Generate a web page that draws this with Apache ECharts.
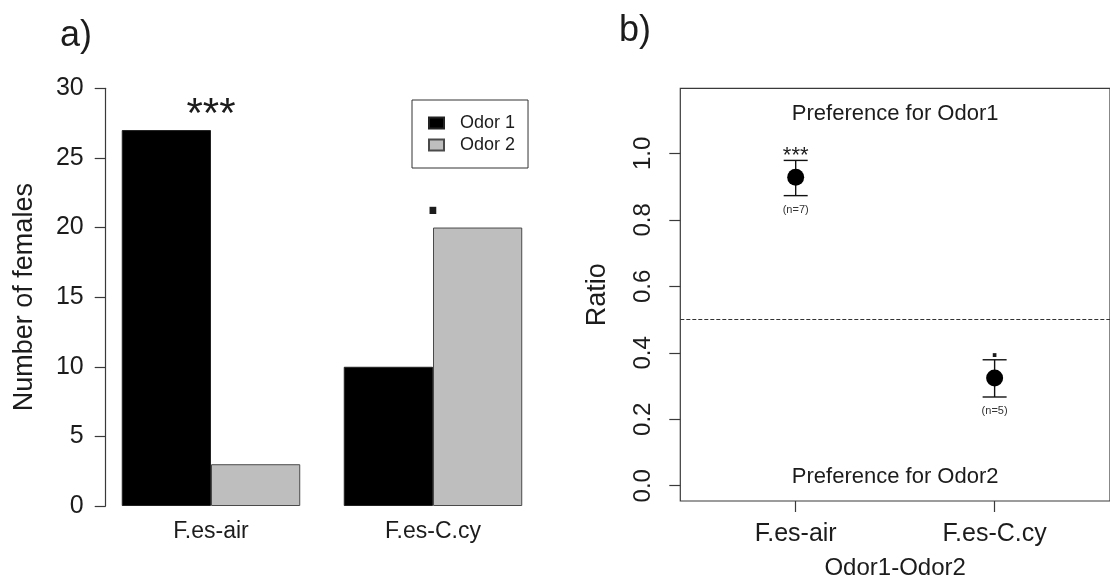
<!DOCTYPE html>
<html>
<head>
<meta charset="utf-8">
<script src="https://cdn.jsdelivr.net/npm/echarts@6/dist/echarts.min.js"></script>
<style>
  html, body { margin: 0; padding: 0; background: #ffffff; }
  #chart { width: 1110px; height: 585px; }
</style>
</head>
<body>
<div id="chart"></div>
<script>
// Panel a: number of females choosing each odour
const categories = ['F.es-air', 'F.es-C.cy'];
const odor1Counts = [27, 10];
const odor2Counts = [3, 20];
const countSig = ['***', '.'];
const countTicks = [0, 5, 10, 15, 20, 25, 30];

// Panel b: mean choice ratio (Odor1 share) with error bars
const ratioMean = [0.928, 0.324];
const ratioLow = [0.873, 0.267];
const ratioHigh = [0.979, 0.379];
const ratioSig = ['***', '.'];
const ratioN = ['(n=7)', '(n=5)'];
const ratioTicks = [0.0, 0.2, 0.4, 0.6, 0.8, 1.0];
const neutralRatio = 0.5;

const FONT = "'Liberation Sans', Arial, Helvetica, sans-serif";
const INK = '#1c1c1c';
const AXIS = '#3a3a3a';

const chart = echarts.init(document.getElementById('chart'), null, { renderer: 'canvas' });

function sigStyle(sig, big) {
  if (sig === '.') {
    return { fontSize: big ? 48 : 26, fontWeight: 'bold' };
  }
  return { fontSize: big ? 42 : 22, fontWeight: 'normal' };
}

const option = {
  animation: false,
  backgroundColor: '#ffffff',
  textStyle: { fontFamily: FONT, color: INK },
  title: [
    { text: 'a)', left: 55, top: 13, textStyle: { fontSize: 36, fontWeight: 'normal', color: INK, fontFamily: FONT } },
    { text: 'b)', left: 614, top: 8, textStyle: { fontSize: 36, fontWeight: 'normal', color: INK, fontFamily: FONT } }
  ],
  legend: {
    data: ['Odor 1', 'Odor 2'],
    orient: 'vertical',
    left: 412,
    top: 100,
    padding: [14, 13, 14, 16],
    itemGap: 4,
    itemWidth: 15,
    itemHeight: 11,
    icon: 'rect',
    borderColor: '#333',
    borderWidth: 1,
    borderRadius: 0,
    textStyle: { fontSize: 18, lineHeight: 18, color: INK, fontFamily: FONT, padding: [0, 0, 0, 11] }
  },
  grid: [
    { left: 100, top: 88.3, width: 444, height: 417.7, containLabel: false },
    { left: 680.3, top: 88.3, width: 431, height: 417.4, containLabel: false,
      show: true, borderColor: AXIS, borderWidth: 1.2, backgroundColor: 'transparent' }
  ],
  xAxis: [
    {
      type: 'category', gridIndex: 0, data: categories,
      axisLine: { show: false }, axisTick: { show: false }, splitLine: { show: false },
      axisLabel: { fontSize: 23, lineHeight: 24, margin: 14, color: INK, fontFamily: FONT }
    },
    {
      type: 'value', gridIndex: 1, min: 0.42, max: 2.58,
      name: 'Odor1-Odor2', nameLocation: 'middle', nameGap: 55,
      nameTextStyle: { fontSize: 24, lineHeight: 24, color: INK, fontFamily: FONT },
      axisLine: { show: false, onZero: false }, splitLine: { show: false },
      axisTick: { show: true, length: 11, customValues: [1, 2], lineStyle: { color: AXIS, width: 1.2 } },
      axisLabel: {
        customValues: [1, 2], fontSize: 25, lineHeight: 26, margin: 20, color: INK, fontFamily: FONT,
        formatter: v => categories[Math.round(v) - 1] || ''
      }
    }
  ],
  yAxis: [
    {
      type: 'value', gridIndex: 0, min: 0, max: 30, interval: 5, offset: -5.7,
      name: 'Number of females', nameLocation: 'middle', nameRotate: 90, nameGap: 68,
      nameTextStyle: { fontSize: 27, lineHeight: 27, color: INK, fontFamily: FONT },
      axisLine: { show: true, onZero: false, lineStyle: { color: AXIS, width: 1.2 } },
      axisTick: { show: true, length: 11, lineStyle: { color: AXIS, width: 1.2 } },
      splitLine: { show: false },
      axisLabel: {
        fontSize: 25, margin: 22, color: INK, fontFamily: FONT,
        customValues: countTicks
      }
    },
    {
      type: 'value', gridIndex: 1, min: -0.046, max: 1.196,
      name: 'Ratio', nameLocation: 'middle', nameRotate: 90, nameGap: 69,
      nameTextStyle: { fontSize: 27, lineHeight: 27, color: INK, fontFamily: FONT },
      axisLine: { show: false, onZero: false }, splitLine: { show: false },
      axisTick: { show: true, length: 11, customValues: ratioTicks, lineStyle: { color: AXIS, width: 1.2 } },
      axisLabel: {
        customValues: ratioTicks, rotate: 90, fontSize: 24, lineHeight: 24, margin: 25,
        color: INK, fontFamily: FONT, formatter: v => v.toFixed(1)
      }
    }
  ],
  series: [
    {
      name: 'Odor 1', type: 'bar', xAxisIndex: 0, yAxisIndex: 0,
      data: odor1Counts, barGap: '0%', barCategoryGap: '19.6%',
      itemStyle: { color: '#000000', borderColor: '#222', borderWidth: 1 }
    },
    {
      name: 'Odor 2', type: 'bar', xAxisIndex: 0, yAxisIndex: 0,
      data: odor2Counts, barGap: '0%', barCategoryGap: '19.6%',
      itemStyle: { color: '#bebebe', borderColor: '#4a4a4a', borderWidth: 1 }
    },
    {
      // significance marks above each pair of bars
      name: 'countSig', type: 'custom', xAxisIndex: 0, yAxisIndex: 0, silent: true,
      data: categories.map((c, i) => [i, Math.max(odor1Counts[i], odor2Counts[i])]),
      renderItem: (params, api) => {
        const p = api.coord([api.value(0), api.value(1)]);
        const sig = countSig[params.dataIndex];
        const st = sigStyle(sig, true);
        const lift = sig === '.' ? 27 : 15;
        return {
          type: 'text',
          style: {
            text: sig, x: p[0], y: p[1] - lift, align: 'center', verticalAlign: 'middle',
            fontSize: st.fontSize, fontWeight: st.fontWeight, fontFamily: FONT, fill: INK
          }
        };
      }
    },
    {
      // region captions inside panel b
      name: 'zones', type: 'custom', xAxisIndex: 1, yAxisIndex: 1, silent: true,
      data: [[1.5, neutralRatio]],
      renderItem: (params, api) => {
        const cs = params.coordSys;
        const cx = cs.x + cs.width / 2;
        const base = { align: 'center', verticalAlign: 'middle', fontSize: 22, fontFamily: FONT, fill: INK };
        return {
          type: 'group',
          children: [
            { type: 'text', style: Object.assign({ text: 'Preference for Odor1', x: cx, y: cs.y + 26 }, base) },
            { type: 'text', style: Object.assign({ text: 'Preference for Odor2', x: cx, y: cs.y + cs.height - 24 }, base) }
          ]
        };
      }
    },
    {
      // error bars with significance and sample-size labels
      name: 'errorBars', type: 'custom', xAxisIndex: 1, yAxisIndex: 1, silent: true,
      data: categories.map((c, i) => [i + 1, ratioLow[i], ratioHigh[i]]),
      renderItem: (params, api) => {
        const i = params.dataIndex;
        const x = api.value(0);
        const lo = api.coord([x, api.value(1)]);
        const hi = api.coord([x, api.value(2)]);
        const half = 12;
        const line = { stroke: '#111', lineWidth: 1.4 };
        const sig = ratioSig[i];
        const st = sigStyle(sig, false);
        const lift = sig === '.' ? 10 : 4;
        return {
          type: 'group',
          children: [
            { type: 'line', shape: { x1: hi[0], y1: hi[1], x2: lo[0], y2: lo[1] }, style: line },
            { type: 'line', shape: { x1: hi[0] - half, y1: hi[1], x2: hi[0] + half, y2: hi[1] }, style: line },
            { type: 'line', shape: { x1: lo[0] - half, y1: lo[1], x2: lo[0] + half, y2: lo[1] }, style: line },
            { type: 'text', style: { text: sig, x: hi[0], y: hi[1] - lift, align: 'center', verticalAlign: 'middle',
                fontSize: st.fontSize, fontWeight: st.fontWeight, fontFamily: FONT, fill: INK } },
            { type: 'text', style: { text: ratioN[i], x: lo[0], y: lo[1] + 14, align: 'center', verticalAlign: 'middle',
                fontSize: 11, fontFamily: FONT, fill: '#333' } }
          ]
        };
      }
    },
    {
      name: 'ratio', type: 'scatter', xAxisIndex: 1, yAxisIndex: 1, silent: true,
      data: categories.map((c, i) => [i + 1, ratioMean[i]]),
      symbol: 'circle', symbolSize: 17,
      itemStyle: { color: '#000000', opacity: 1 },
      z: 3,
      markLine: {
        silent: true, symbol: ['none', 'none'],
        label: { show: false },
        lineStyle: { color: '#333', width: 1, type: [4, 2] },
        data: [{ yAxis: neutralRatio }]
      }
    }
  ]
};

chart.setOption(option);
</script>
</body>
</html>
